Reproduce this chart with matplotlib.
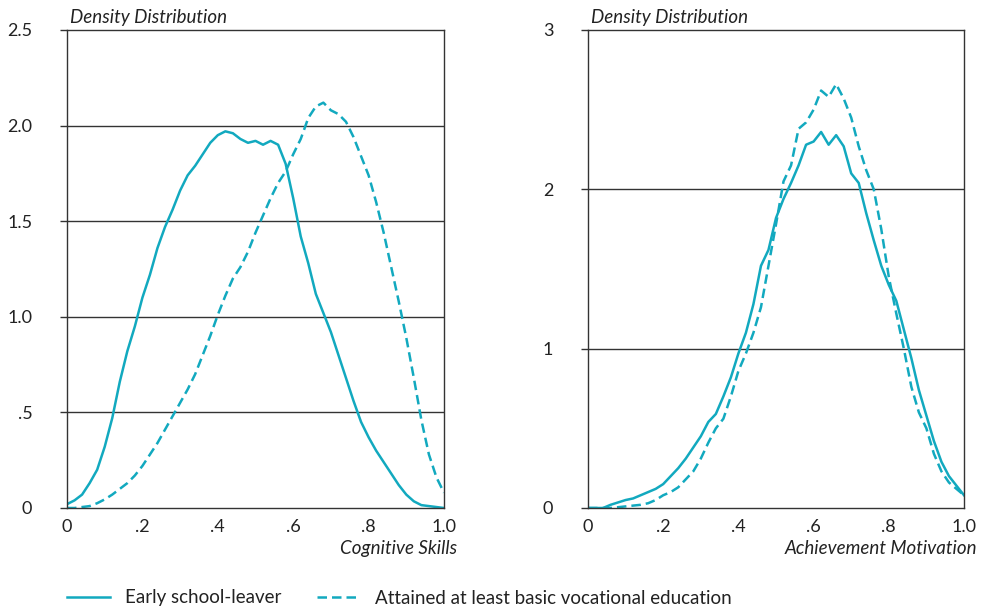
import numpy as np
import matplotlib
matplotlib.use("Agg")
import matplotlib.pyplot as plt
from matplotlib.lines import Line2D

#-------------------------------------------------------------------------------------
#                                       DATA
#-------------------------------------------------------------------------------------
x_grid = np.round(np.arange(0, 1.0001, 0.02), 2)

# Cognitive skills: density per group
cog_early = [0.02, 0.04, 0.07, 0.13, 0.20, 0.32, 0.47, 0.66, 0.82, 0.95,
             1.10, 1.22, 1.36, 1.47, 1.56, 1.66, 1.74, 1.79, 1.85, 1.91,
             1.95, 1.97, 1.96, 1.93, 1.91, 1.92, 1.90, 1.92, 1.90, 1.80,
             1.62, 1.42, 1.28, 1.12, 1.02, 0.92, 0.80, 0.68, 0.56, 0.45,
             0.37, 0.30, 0.24, 0.18, 0.12, 0.07, 0.035, 0.015, 0.01, 0.005,
             0.0]
cog_voc = [0.00, 0.00, 0.005, 0.01, 0.025, 0.045, 0.07, 0.10, 0.13, 0.17,
           0.22, 0.28, 0.34, 0.41, 0.48, 0.55, 0.62, 0.70, 0.80, 0.90,
           1.01, 1.11, 1.20, 1.26, 1.34, 1.44, 1.53, 1.62, 1.70, 1.76,
           1.85, 1.93, 2.04, 2.10, 2.12, 2.08, 2.06, 2.02, 1.94, 1.84,
           1.74, 1.60, 1.44, 1.26, 1.08, 0.89, 0.68, 0.46, 0.28, 0.16,
           0.08]

# Achievement motivation: density per group
ach_early = [0.0, 0.0, 0.0, 0.02, 0.035, 0.05, 0.06, 0.08, 0.10, 0.12,
             0.15, 0.20, 0.25, 0.31, 0.38, 0.45, 0.54, 0.59, 0.70, 0.82,
             0.97, 1.10, 1.28, 1.52, 1.62, 1.82, 1.94, 2.04, 2.15, 2.28,
             2.30, 2.36, 2.28, 2.34, 2.27, 2.10, 2.04, 1.85, 1.68, 1.52,
             1.40, 1.30, 1.12, 0.94, 0.74, 0.58, 0.42, 0.29, 0.20, 0.14,
             0.08]
ach_voc = [0.0, 0.0, 0.0, 0.0, 0.005, 0.01, 0.015, 0.02, 0.03, 0.05,
           0.08, 0.10, 0.13, 0.18, 0.23, 0.31, 0.41, 0.50, 0.56, 0.70,
           0.86, 0.97, 1.10, 1.26, 1.52, 1.78, 2.05, 2.15, 2.38, 2.42,
           2.50, 2.62, 2.58, 2.66, 2.57, 2.45, 2.27, 2.12, 2.00, 1.75,
           1.45, 1.22, 1.00, 0.76, 0.60, 0.50, 0.34, 0.23, 0.16, 0.12,
           0.08]

x_ticks = [0, 0.2, 0.4, 0.6, 0.8, 1.0]
x_labels = ["0", ".2", ".4", ".6", ".8", "1.0"]
cog_yticks = [0, 0.5, 1.0, 1.5, 2.0, 2.5]
cog_ylabels = ["0", ".5", "1.0", "1.5", "2.0", "2.5"]
ach_yticks = [0, 1, 2, 3]
ach_ylabels = ["0", "1", "2", "3"]
legend_labels = ["Early school-leaver", "Attained at least basic vocational education"]

#-------------------------------------------------------------------------------------
#                                       STYLE
#-------------------------------------------------------------------------------------
plt.rcParams['font.family'] = ['Lato', 'DejaVu Sans']
teal = '#12a9bf'
dark = '#333333'
txt = '#222222'
lw = 1.8
dash = (3.8, 2.0)

fig = plt.figure(figsize=(9.84, 6.11), dpi=100)
ax1 = fig.add_axes([67/984, 1-508/611, 377/984, 478/611])
ax2 = fig.add_axes([588/984, 1-508/611, 376/984, 478/611])

panels = [
    (ax1, cog_early, cog_voc, cog_yticks, cog_ylabels, 2.5, "Cognitive Skills"),
    (ax2, ach_early, ach_voc, ach_yticks, ach_ylabels, 3, "Achievement Motivation"),
]

for ax, early, voc, yt, yl, ymax, xlabel in panels:
    ax.plot(x_grid, early, color=teal, lw=lw, solid_joinstyle='round')
    ax.plot(x_grid, voc, color=teal, lw=lw, dashes=dash)
    ax.set_xlim(0, 1)
    ax.set_ylim(0, ymax)
    ax.set_yticks(yt)
    ax.set_yticklabels(yl)
    ax.set_xticks(x_ticks)
    ax.set_xticklabels(x_labels)
    ax.tick_params(axis='y', direction='out', length=5, width=1, color=dark,
                   pad=20, labelsize=13, labelcolor=txt)
    ax.tick_params(axis='x', length=0, pad=8, labelsize=13, labelcolor=txt)
    # horizontal reference lines
    for v in yt[1:-1]:
        ax.axhline(v, color=dark, lw=1, zorder=0)
    for s in ax.spines.values():
        s.set_color(dark)
        s.set_linewidth(1)
    ax.text(0.008, 1.008, "Density Distribution", transform=ax.transAxes,
            ha='left', va='bottom', fontsize=13.5, style='italic', color=txt)
    ax.text(1.035, -0.085, xlabel, transform=ax.transAxes,
            ha='right', va='center', fontsize=13.5, style='italic', color=txt)

#-------------------------------------------------------------------------------------
#                                       LEGEND
#-------------------------------------------------------------------------------------
handles = [Line2D([], [], color=teal, lw=lw),
           Line2D([], [], color=teal, lw=lw, dashes=dash)]
leg = fig.legend(handles, legend_labels, loc='center left',
                 bbox_to_anchor=(67/984, 1-598/611), ncol=2, frameon=False,
                 borderpad=0, borderaxespad=0, handlelength=2.3,
                 handletextpad=0.8, columnspacing=1.9,
                 prop={'size': 13.5})
for t in leg.get_texts():
    t.set_color(txt)

plt.savefig('out.png', dpi=100)
